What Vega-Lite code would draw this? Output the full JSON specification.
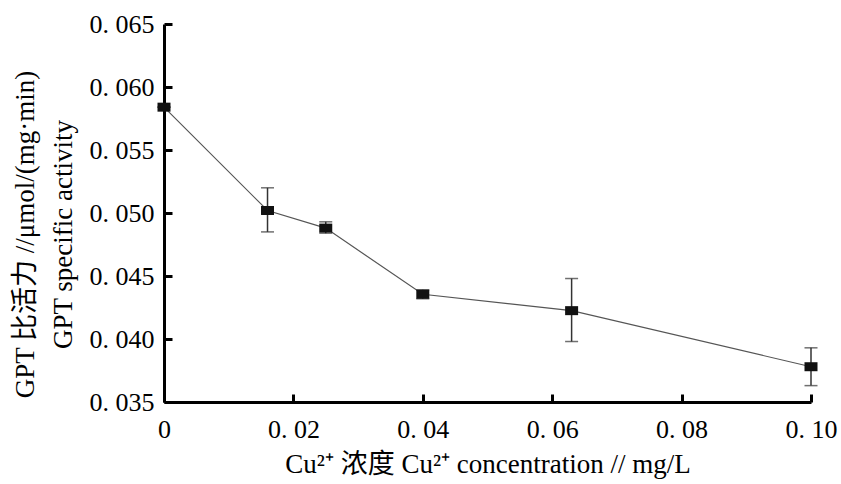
{
  "$schema": "https://vega.github.io/schema/vega-lite/v6.json",
  "autosize": "none",
  "width": 647,
  "height": 378,
  "padding": {"left": 164, "top": 24, "right": 30, "bottom": 82},
  "background": "white",
  "config": {
    "view": {"stroke": null},
    "font": "Liberation Serif, Noto Sans CJK SC",
    "axis": {
      "grid": false,
      "domainColor": "#000",
      "domainWidth": 3,
      "tickColor": "#000",
      "tickWidth": 3,
      "tickSize": 8,
      "labelFont": "Liberation Serif",
      "labelFontSize": 26,
      "labelColor": "#000",
      "labelFlush": false,
      "labelOverlap": false,
      "titleFont": "Liberation Serif, Noto Sans CJK SC",
      "titleFontSize": 27,
      "titleFontWeight": "normal",
      "titleColor": "#000"
    }
  },
  "resolve": {"axis": {"x": "independent", "y": "independent"}},
  "data": {
    "values": [
      {"conc": 0.0, "activity": 0.0584, "lo": 0.0584, "hi": 0.0584},
      {"conc": 0.016, "activity": 0.0502, "lo": 0.0485, "hi": 0.0520},
      {"conc": 0.025, "activity": 0.0488, "lo": 0.0484, "hi": 0.0493},
      {"conc": 0.04, "activity": 0.04355, "lo": 0.0432, "hi": 0.0439},
      {"conc": 0.063, "activity": 0.04225, "lo": 0.0398, "hi": 0.0448},
      {"conc": 0.10, "activity": 0.0378, "lo": 0.0363, "hi": 0.0393}
    ]
  },
  "layer": [
    {
      "mark": {"type": "line", "color": "#555", "strokeWidth": 1.2},
      "encoding": {
        "x": {
          "field": "conc",
          "type": "quantitative",
          "scale": {"domain": [0, 0.1], "nice": false, "zero": false},
          "axis": {
            "orient": "bottom",
            "ticks": false,
            "values": [0, 0.02, 0.04, 0.06, 0.08, 0.1],
            "labelExpr": "datum.value == 0 ? '0' : replace(format(datum.value, '.2f'), '.', '. ')",
            "labelPadding": 14,
            "title": "Cu²⁺ 浓度 Cu²⁺ concentration // mg/L",
            "titleY": 70,
            "titleBaseline": "alphabetic"
          }
        },
        "y": {
          "field": "activity",
          "type": "quantitative",
          "scale": {"domain": [0.035, 0.065], "nice": false, "zero": false},
          "axis": {
            "orient": "left",
            "ticks": false,
            "values": [0.035, 0.04, 0.045, 0.05, 0.055, 0.06, 0.065],
            "labelExpr": "replace(format(datum.value, '.3f'), '.', '. ')",
            "labelPadding": 10,
            "title": ["GPT 比活力 //μmol/(mg·min)", "GPT specific activity"],
            "titleLineHeight": 38,
            "titleAngle": -90,
            "titleBaseline": "middle",
            "titleX": -139,
            "titleY": 210
          }
        }
      }
    },
    {
      "mark": {"type": "rule", "color": "#333", "strokeWidth": 1.5},
      "encoding": {
        "x": {
          "field": "conc",
          "type": "quantitative",
          "axis": {
            "orient": "top",
            "offset": -378,
            "values": [0, 0.02, 0.04, 0.06, 0.08, 0.1],
            "labels": false,
            "domain": false,
            "title": null
          }
        },
        "y": {
          "field": "lo",
          "type": "quantitative",
          "axis": {
            "orient": "right",
            "offset": -647,
            "values": [0.035, 0.04, 0.045, 0.05, 0.055, 0.06, 0.065],
            "labels": false,
            "domain": false,
            "title": null
          }
        },
        "y2": {"field": "hi"}
      }
    },
    {
      "mark": {"type": "tick", "color": "#333", "thickness": 1.5, "size": 13, "orient": "horizontal"},
      "encoding": {
        "x": {"field": "conc", "type": "quantitative", "axis": null},
        "y": {"field": "lo", "type": "quantitative", "axis": null}
      }
    },
    {
      "mark": {"type": "tick", "color": "#333", "thickness": 1.5, "size": 13, "orient": "horizontal"},
      "encoding": {
        "x": {"field": "conc", "type": "quantitative", "axis": null},
        "y": {"field": "hi", "type": "quantitative", "axis": null}
      }
    },
    {
      "mark": {"type": "point", "shape": "M-1.3,-0.9H1.3V0.9H-1.3Z", "size": 100, "filled": true, "color": "#111", "opacity": 1},
      "encoding": {
        "x": {"field": "conc", "type": "quantitative", "axis": null},
        "y": {"field": "activity", "type": "quantitative", "axis": null}
      }
    }
  ]
}
